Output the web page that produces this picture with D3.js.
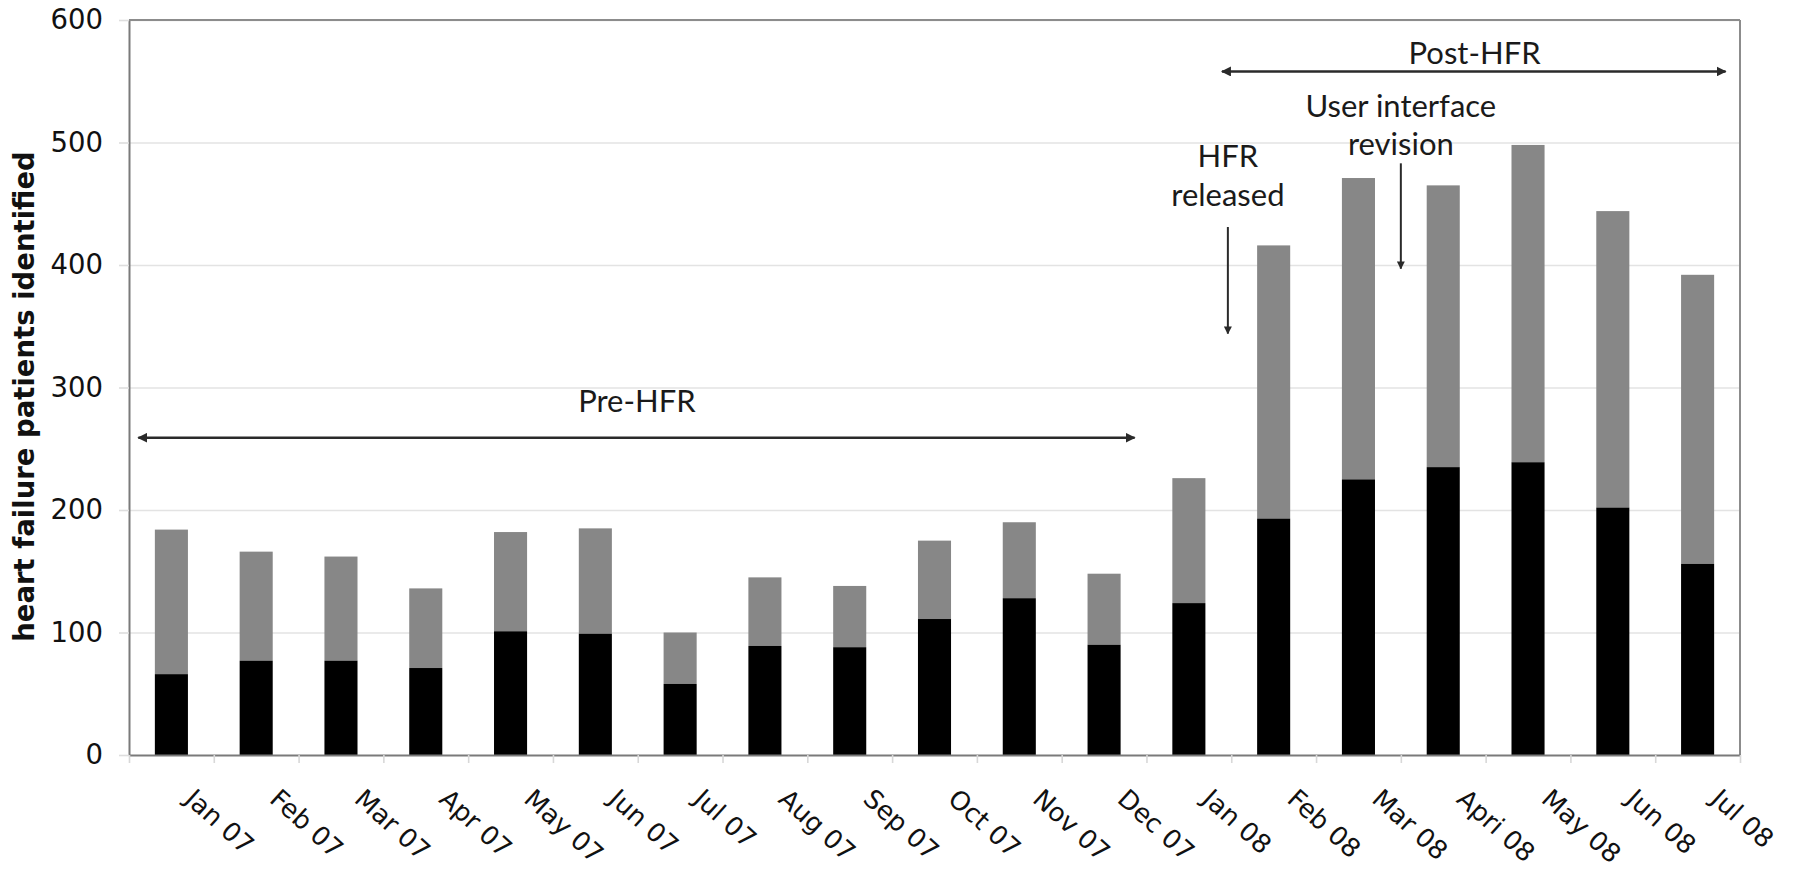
<!DOCTYPE html>
<html>
<head>
<meta charset="utf-8">
<script src="https://cdn.jsdelivr.net/npm/d3@7"></script>
<style>
  html, body { margin: 0; padding: 0; background: #fff; }
  svg { display: block; }
</style>
</head>
<body>
<svg id="chart" width="1793" height="872"></svg>
<script>
// ---- data ----
const categories = ["Jan 07","Feb 07","Mar 07","Apr 07","May 07","Jun 07","Jul 07","Aug 07","Sep 07","Oct 07","Nov 07","Dec 07","Jan 08","Feb 08","Mar 08","Apri 08","May 08","Jun 08","Jul 08"];
const blackValues = [66, 77, 77, 71, 101, 99, 58, 89, 88, 111, 128, 90, 124, 193, 225, 235, 239, 202, 156];
const totalValues = [184, 166, 162, 136, 182, 185, 100, 145, 138, 175, 190, 148, 226, 416, 471, 465, 498, 444, 392];
const yTicks = [0, 100, 200, 300, 400, 500, 600];
const yTitle = "heart failure patients identified";

// annotation periods (in category-index units and value units)
const periodLabels = ["Pre-HFR", "Post-HFR"];
const periodFrom = [0.11, 12.89];
const periodTo = [11.86, 18.83];
const periodArrowY = [259, 558];
const periodTextY = [280, 564];
const periodTextX = [5.99, 15.87];

const eventLines = [["HFR", "released"], ["User interface", "revision"]];
const eventX = [12.96, 15.0];
const eventTextY = [[480, 448], [521, 490]];
const eventArrowFrom = [431, 483];
const eventArrowTo = [344, 397];

// ---- layout ----
const W = 1793, H = 872;
const pLeft = 129, pRight = 1740, pTop = 20, pBottom = 755;

const svg = d3.select("#chart");

const x = d3.scaleBand().domain(categories).range([pLeft, pRight]).padding(0);
const xIdx = d3.scaleLinear().domain([0, categories.length]).range([pLeft, pRight]);
const y = d3.scaleLinear().domain([0, 600]).range([pBottom, pTop]);

const barW = x.bandwidth() * 0.39;

// gridlines
svg.append("g")
  .attr("transform", `translate(${pLeft},0)`)
  .call(d3.axisLeft(y).tickValues(yTicks.filter(v => v > 0)).tickSize(-(pRight - pLeft)).tickFormat(""))
  .call(g => g.select(".domain").remove())
  .call(g => g.selectAll("line").attr("stroke", "#e3e3e3").attr("stroke-width", 1.6));

// y axis
svg.append("g")
  .attr("transform", `translate(${pLeft},0)`)
  .call(d3.axisLeft(y).tickValues(yTicks).tickSize(10).tickSizeOuter(0).tickPadding(16))
  .call(g => g.select(".domain").attr("stroke", "#7a7a7a").attr("stroke-width", 2))
  .call(g => g.selectAll("line").attr("stroke", "#dedede").attr("stroke-width", 1.6))
  .call(g => g.selectAll("text")
    .attr("font-family", "DejaVu Sans, Verdana, sans-serif")
    .attr("font-size", 27.5)
    .attr("fill", "#111"));

// frame top and right
svg.append("line").attr("x1", pLeft).attr("x2", pRight).attr("y1", pTop).attr("y2", pTop)
  .attr("stroke", "#8c8c8c").attr("stroke-width", 2);
svg.append("line").attr("x1", pRight).attr("x2", pRight).attr("y1", pTop).attr("y2", pBottom)
  .attr("stroke", "#8c8c8c").attr("stroke-width", 2);

// bars: total (gray) then black
const bars = svg.append("g");
bars.selectAll("rect.total").data(categories).join("rect")
  .attr("class", "total")
  .attr("x", d => x(d) + (x.bandwidth() - barW) / 2)
  .attr("width", barW)
  .attr("y", (d, i) => y(totalValues[i]))
  .attr("height", (d, i) => y(blackValues[i]) - y(totalValues[i]))
  .attr("fill", "#878787");
bars.selectAll("rect.black").data(categories).join("rect")
  .attr("class", "black")
  .attr("x", d => x(d) + (x.bandwidth() - barW) / 2)
  .attr("width", barW)
  .attr("y", (d, i) => y(blackValues[i]))
  .attr("height", (d, i) => y(0) - y(blackValues[i]))
  .attr("fill", "#000");

// x axis with ticks at category boundaries
svg.append("g")
  .attr("transform", `translate(0,${pBottom})`)
  .call(d3.axisBottom(xIdx).tickValues(d3.range(categories.length + 1)).tickSize(8).tickSizeOuter(0).tickFormat(""))
  .call(g => g.select(".domain").attr("stroke", "#7a7a7a").attr("stroke-width", 2))
  .call(g => g.selectAll(".tick line").attr("stroke", "#d8d8d8").attr("stroke-width", 1.6));

// x labels rotated
svg.append("g").selectAll("text").data(categories).join("text")
  .attr("transform", d => `translate(${x(d) + x.bandwidth() / 2 + 12},${pBottom + 46}) rotate(42)`)
  .attr("font-family", "DejaVu Sans, Verdana, sans-serif")
  .attr("font-size", 26)
  .attr("fill", "#111")
  .attr("text-anchor", "start")
  .text(d => d);

// y title
svg.append("text")
  .attr("transform", `translate(34,${(pTop + pBottom) / 2 + 9}) rotate(-90)`)
  .attr("text-anchor", "middle")
  .attr("font-family", "DejaVu Sans, Verdana, sans-serif")
  .attr("font-weight", "bold")
  .attr("font-size", 27.5)
  .attr("fill", "#111")
  .text(yTitle);

// arrow markers
const defs = svg.append("defs");
defs.append("marker").attr("id", "ah").attr("viewBox", "0 0 10 10")
  .attr("refX", 9).attr("refY", 5).attr("markerWidth", 4).attr("markerHeight", 4)
  .attr("markerUnits", "strokeWidth").attr("orient", "auto-start-reverse")
  .append("path").attr("d", "M0,0 L10,5 L0,10 Z").attr("fill", "#2a2a2a");

const annFont = "Lato, 'Open Sans', sans-serif";
const ann = svg.append("g");

// period arrows
ann.selectAll("line.period").data(periodLabels).join("line")
  .attr("class", "period")
  .attr("x1", (d, i) => xIdx(periodFrom[i])).attr("x2", (d, i) => xIdx(periodTo[i]))
  .attr("y1", (d, i) => y(periodArrowY[i])).attr("y2", (d, i) => y(periodArrowY[i]))
  .attr("stroke", "#2a2a2a").attr("stroke-width", 2.5)
  .attr("marker-start", "url(#ah)").attr("marker-end", "url(#ah)");
ann.selectAll("text.period").data(periodLabels).join("text")
  .attr("class", "period")
  .attr("x", (d, i) => xIdx(periodTextX[i])).attr("y", (d, i) => y(periodTextY[i]))
  .attr("text-anchor", "middle")
  .attr("font-family", annFont).attr("font-size", 31).attr("fill", "#1a1a1a")
  .text(d => d);

// event arrows
ann.selectAll("line.event").data(eventLines).join("line")
  .attr("class", "event")
  .attr("x1", (d, i) => xIdx(eventX[i])).attr("x2", (d, i) => xIdx(eventX[i]))
  .attr("y1", (d, i) => y(eventArrowFrom[i])).attr("y2", (d, i) => y(eventArrowTo[i]))
  .attr("stroke", "#2a2a2a").attr("stroke-width", 2)
  .attr("marker-end", "url(#ah)");
eventLines.forEach((lines, i) => {
  lines.forEach((t, j) => {
    ann.append("text")
      .attr("x", xIdx(eventX[i])).attr("y", y(eventTextY[i][j]))
      .attr("text-anchor", "middle")
      .attr("font-family", annFont).attr("font-size", 31).attr("fill", "#1a1a1a")
      .text(t);
  });
});
</script>
</body>
</html>
